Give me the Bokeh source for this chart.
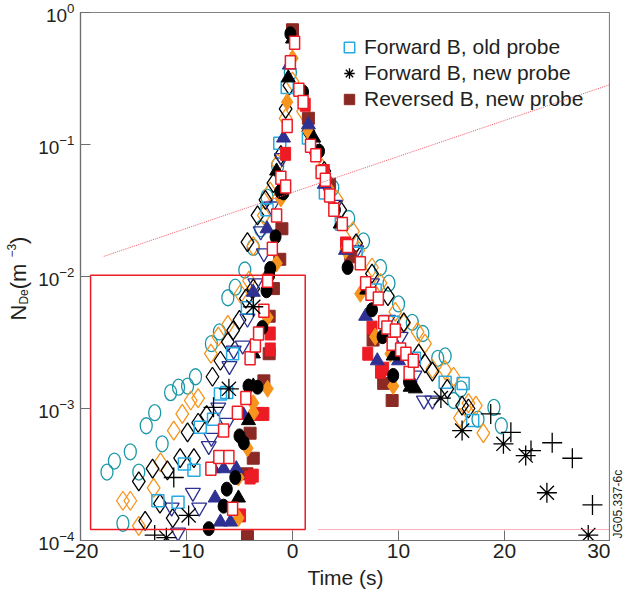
import numpy as np
from bokeh.plotting import figure
from bokeh.layouts import row
from bokeh.models import Range1d, Legend, LegendItem, FixedTicker, ColumnDataSource
from bokeh.core.properties import value
from bokeh.embed import file_html
from bokeh.resources import INLINE

# ---------------- data (time s, N_De m^-3) ----------------
teal_open_circle = [(-17.5,3.3e-4),(-16.8,4.0e-4),(-16.0,1.35e-4),(-15.3,4.7e-4),(-14.5,3.3e-4),(-13.8,7.4e-4),
    (-13.0,9.3e-4),(-12.3,5.4e-4),(-11.5,1.32e-3),(-10.75,1.45e-3),(-9.9,1.48e-3),(-9.15,1.74e-3),(-7.65,3.1e-3),
    (-6.9,3.8e-3),(-6.1,6.9e-3),(-5.4,8.3e-3),(-4.5,1.12e-2),(-3.7,1.66e-2),(-3.0,2.3e-2),(-2.4,4.0e-2),(-1.4,6.9e-2),
    (-0.2,0.35),(2.0,0.10),(3.2,5.2e-2),(3.8,4.7e-2),(5.3,2.75e-2),(6.7,1.86e-2),(8.3,1.17e-2),(9.1,8.9e-3),
    (10.0,6.2e-3),(11.3,4.5e-3),(12.3,3.7e-3),(13.7,2.4e-3),(14.4,2.5e-3),(15.2,1.15e-3),(15.9,1.41e-3),
    (17.5,8.3e-4),(19.0,1.02e-3),(19.7,7.4e-4)]
orange_open_diamond = [(-16.0,2.0e-4),(-15.3,2.0e-4),(-14.5,1.29e-4),(-13.1,2.5e-4),(-12.45,3.9e-4),(-11.2,6.8e-4),
    (-10.4,9.1e-4),(-9.6,1.15e-3),(-8.9,1.2e-3),(-7.7,2.6e-3),(-7.0,3.5e-3),(-6.1,4.3e-3),(-4.9,7.4e-3),(-4.1,9.3e-3),
    (-3.7,1.7e-2),(-2.7,2.9e-2),(-2.1,4.4e-2),(-1.4,7.2e-2),(-0.65,0.158),(0.0,0.30),(1.0,0.178),(2.8,6.6e-2),
    (4.2,3.8e-2),(5.7,2.2e-2),(6.2,1.58e-2),(7.5,1.17e-2),(8.3,8.9e-3),(9.7,5.4e-3),(10.5,4.4e-3),(11.8,3.8e-3),
    (12.5,3.1e-3),(13.2,2.0e-3),(14.4,1.95e-3),(15.2,1.74e-3),(15.8,8.5e-4),(16.6,1.1e-3),(17.3,1.05e-3),(18.0,6.5e-4)]
black_open_diamond = [(-14.5,2.8e-4),(-13.9,1.41e-4),(-13.2,3.5e-4),(-12.5,1.9e-4),(-11.8,3.4e-4),(-11.3,1.48e-4),
    (-10.6,4.2e-4),(-9.9,6.6e-4),(-9.3,4.2e-4),(-8.9,7.8e-4),(-8.1,8.9e-4),(-7.55,1.74e-3),(-6.8,2.3e-3),(-6.1,3.2e-3),
    (-5.6,3.9e-3),(-5.0,4.7e-3),(-4.4,6.8e-3),(-3.7,8.1e-3),(-4.25,1.82e-2),(-3.3,2.9e-2),(-2.55,3.8e-2),(-1.8,5.1e-2),
    (-1.1,8.3e-2),(-0.65,0.186),(-0.3,0.28),(1.5,0.126),(3.0,6.3e-2),(4.5,3.2e-2),(6.0,1.78e-2),(7.5,1.05e-2),
    (9.0,7.1e-3),(10.5,4.5e-3),(11.9,2.6e-3),(12.5,2.2e-3),(13.2,1.9e-3),(14.6,1.41e-3),(16.0,1.05e-3),(16.6,1.0e-3)]
navy_open_triangle = [(-11.4,1.78e-4),(-10.8,1.15e-4),(-9.4,2.3e-4),(-8.8,1.78e-4),(-7.9,5.2e-4),(-7.65,6.0e-4),
    (-7.0,1.02e-3),(-6.2,7.8e-4),(-5.95,2.1e-3),(-5.55,2.75e-3),(-4.7,3.0e-3),(-4.25,4.8e-3),(-3.5,8.9e-3),
    (-2.7,1.5e-2),(-3.0,2.2e-2),(-2.0,3.4e-2),(-1.0,7.9e-2),(2.0,8.9e-2),(4.0,3.5e-2),(6.0,1.58e-2),(7.5,8.9e-3),
    (9.0,4.7e-3),(10.2,3.5e-3),(11.5,1.78e-3),(12.4,1.15e-3),(13.2,1.15e-3)]
lightblue_open_square = [(-12.7,2.0e-4),(-10.8,1.95e-4),(-10.2,3.8e-4),(-9.3,3.4e-4),(-8.7,7.2e-4),(-7.45,8.3e-4),
    (-6.8,1.29e-3),(-6.2,1.32e-3),(-5.65,2.6e-3),(-4.25,5.8e-3),(-2.4,3.2e-2),(-1.2,0.102),(-0.5,0.27),(1.5,0.112),
    (3.1,4.3e-2),(4.6,2.5e-2),(6.0,1.5e-2),(7.8,7.9e-3),(9.5,4.5e-3),(11.5,2.4e-3),(14.4,1.58e-3),(16.1,1.55e-3),
    (17.0,8.1e-4)]
red_open_square = [(-7.7,3.5e-4),(-6.95,4.3e-4),(-6.0,4.3e-4),(-6.5,6.8e-4),(-5.65,1.74e-4),(-5.2,9.3e-4),(-4.4,1.2e-3),
    (-4.0,2.4e-3),(-3.5,3.0e-3),(-3.2,3.7e-3),(-2.7,5.5e-3),(-2.35,9.3e-3),(-1.9,1.62e-2),(-1.5,2.9e-2),(-1.1,5.6e-2),
    (-0.65,4.8e-2),(-0.5,0.138),(-0.2,0.42),(0.2,0.59),(0.6,0.26),(1.0,0.21),(1.7,9.8e-2),(2.2,8.3e-2),(2.7,6.2e-2),
    (3.1,5.4e-2),(3.5,4.1e-2),(3.9,3.2e-2),(4.7,2.5e-2),(5.2,1.7e-2),(6.4,1.26e-2),(6.9,8.9e-3),(7.4,7.4e-3),
    (8.1,6.8e-3),(8.6,4.5e-3),(8.9,4.1e-3),(9.4,3.1e-3),(9.7,3.9e-3),(10.2,2.8e-3),(10.7,2.6e-3),(11.0,1.86e-3),
    (11.4,2.3e-3)]
black_filled_circle = [(-7.9,1.23e-4),(-6.5,1.82e-4),(-6.2,2.45e-4),(-5.4,3.0e-4),(-5.0,6.2e-4),(-4.6,5.5e-4),
    (-4.15,1.48e-3),(-3.3,1.45e-3),(-2.85,4.1e-3),(-2.45,7.8e-3),(-2.2,1.02e-2),(-2.1,1.15e-2),(-1.6,2.0e-2),
    (-1.15,4.4e-2),(-0.85,4.3e-2),(-0.2,0.69),(1.0,0.25),(2.5,8.9e-2),(4.0,3.2e-2),(5.2,1.17e-2),(7.5,5.6e-3),
    (8.5,3.5e-3),(9.5,1.78e-3),(11.0,1.58e-3)]
navy_filled_triangle = [(-7.45,3.5e-4),(-7.3,2.1e-4),(-6.8,1.38e-4),(-6.5,3.5e-4),(-5.85,1.38e-4),(-5.3,3.5e-4),
    (-4.6,8.9e-4),(-3.7,2.6e-3),(-3.7,7.6e-3),(-2.4,2.3e-2),(-0.85,0.112),(-0.3,0.4),(1.5,0.141),(3.0,5.0e-2),
    (5.0,1.58e-2),(6.9,5.0e-3),(8.0,2.3e-3),(10.0,2.3e-3),(11.1,1.7e-3)]
orange_filled_diamond = [(-5.1,1.48e-4),(-5.1,3.0e-4),(-4.25,5.0e-4),(-3.7,9.3e-4),(-3.7,1.1e-3),(-2.35,1.41e-3),
    (-2.35,4.9e-3),(-1.5,1.26e-2),(-1.1,3.9e-2),(-0.5,0.21),(0.0,0.45),(1.5,0.126),(3.5,4.5e-2),(5.0,1.58e-2),
    (6.4,7.4e-3),(7.8,3.5e-3),(9.25,2.6e-3),(9.5,1.48e-3)]
red_filled_square = [(-4.9,1.55e-4),(-4.0,3.0e-4),(-3.7,3.1e-4),(-3.2,9.1e-4),(-2.7,9.1e-4),(-2.1,3.7e-3),(-2.1,2.8e-3),
    (-0.65,8.5e-2),(1.2,0.2),(3.0,6.3e-2),(5.0,1.78e-2),(7.1,2.6e-3),(7.5,4.1e-3),(8.6,2.0e-3),(8.3,1.9e-3)]
brown_filled_square = [(-4.25,1.07e-4),(-4.3,3.2e-4),(-4.0,6.5e-4),(-3.7,4.2e-4),(-2.7,1.62e-3),(-2.2,2.6e-3),
    (-2.2,5.0e-3),(-1.8,8.1e-3),(-1.2,1.35e-2),(-1.0,2.3e-2),(0.0,0.74),(1.5,0.158),(3.5,5.0e-2),(5.5,1.41e-2),
    (7.6,3.3e-3),(8.6,1.55e-3),(9.4,1.15e-3)]
black_filled_triangle = [(-5.1,2.1e-4),(-4.15,8.1e-4),(-3.7,2.6e-3),(-3.7,1.48e-3),(-1.5,6.3e-2),(-0.4,0.32),
    (0.0,0.63),(2.0,0.112),(4.5,2.5e-2),(7.0,7.9e-3),(9.5,2.5e-3),(11.1,1.45e-3),(11.6,1.41e-3)]
black_asterisk = [(-11.9,1.05e-4),(-9.8,1.55e-4),(-6.0,1.41e-3),(-3.7,5.9e-3),(14.0,1.2e-3),(16.0,6.8e-4),
    (19.9,5.4e-4),(22.0,4.4e-4),(24.0,2.3e-4),(27.9,1.1e-4)]
black_plus = [(-13.0,1.1e-4),(-11.2,3.0e-4),(-7.45,1.02e-3),(18.7,9.1e-4),(20.6,6.6e-4),(22.5,4.8e-4),
    (24.5,5.5e-4),(26.4,4.2e-4),(28.3,1.86e-4)]

x_ticks = [-20, -10, 0, 10, 20, 30]
y_ticks = [1e-4, 1e-3, 1e-2, 1e-1, 1]
legend_labels = ["Forward B, old probe", "Forward B, new probe", "Reversed B, new probe"]
figure_id = "JG05.337-6c"

# annotation geometry (red box and dotted guide lines)
box_t = (-19.05, 1.2)
box_n = (1.21e-4, 1.02e-2)
guide_t = [-17.8, 30]
guide_n = [0.0142, 0.285]
floor_t = [2.45, 30]
floor_n = [1.21e-4, 1.21e-4]

TEAL = "#1b98a8"; ORANGE = "#f7941d"; NAVY = "#2e3192"; LBLUE = "#27aae1"
RED = "#ed1c24"; BROWN = "#8b2a24"; BLACK = "#000000"; TXT = "#231f20"
FONT = "Liberation Sans"
H = 593
TOP_B, BOT_B = 12, 53
LEFT_W, RIGHT_W = 34, 19
MAIN_W = 629 - LEFT_W - RIGHT_W

def src(pairs):
    return ColumnDataSource(dict(t=[a for a, b in pairs], n=[b for a, b in pairs]))

def text_panel(w):
    # frames of a row are aligned with the main plot's frame; the y range maps
    # so that y = (page height - pixel row) inside that frame
    f = figure(width=w, height=H, x_range=Range1d(0, w), y_range=Range1d(BOT_B, H - TOP_B),
               output_backend="svg", toolbar_location=None, x_axis_location=None, y_axis_location=None,
               min_border=0, min_border_left=0, min_border_right=0,
               min_border_top=TOP_B, min_border_bottom=BOT_B)
    f.xgrid.visible = False
    f.ygrid.visible = False
    f.outline_line_color = None
    return f

p = figure(width=MAIN_W, height=H, x_range=Range1d(-20, 30), y_range=Range1d(1e-4, 1),
           y_axis_type="log", output_backend="svg", toolbar_location=None,
           min_border_left=80 - LEFT_W, min_border_right=0, min_border_top=TOP_B, min_border_bottom=BOT_B)
p.xgrid.visible = False
p.ygrid.visible = False
p.outline_line_color = "#808285"
p.outline_line_width = 1.2

# open markers
p.ellipse(x="t", y="n", width=12, height=16, width_units="screen", height_units="screen",
          source=src(teal_open_circle), fill_color=None, line_color=TEAL, line_width=1.3)
p.scatter(x="t", y="n", source=src(orange_open_diamond), marker="diamond", size=19,
          fill_color=None, line_color=ORANGE, line_width=1.3)
p.scatter(x="t", y="n", source=src(black_open_diamond), marker="diamond", size=19,
          fill_color=None, line_color=BLACK, line_width=1.3)
p.scatter(x="t", y="n", source=src(navy_open_triangle), marker="inverted_triangle", size=15,
          fill_color=None, line_color=NAVY, line_width=1.3)
r_old = p.scatter(x="t", y="n", source=src(lightblue_open_square), marker="square", size=12,
          fill_color=None, line_color=LBLUE, line_width=1.5)
# filled markers
r_rev = p.scatter(x="t", y="n", source=src(brown_filled_square), marker="square", size=12,
          fill_color=BROWN, line_color=BROWN)
p.rect(x="t", y="n", width=10, height=13, width_units="screen", height_units="screen",
       source=src(red_filled_square), fill_color=RED, line_color=RED)
p.scatter(x="t", y="n", source=src(orange_filled_diamond), marker="diamond", size=17,
          fill_color=ORANGE, line_color=ORANGE)
p.scatter(x="t", y="n", source=src(navy_filled_triangle), marker="triangle", size=14,
          fill_color=NAVY, line_color=NAVY)
p.ellipse(x="t", y="n", width=11, height=14, width_units="screen", height_units="screen",
          source=src(black_filled_circle), fill_color=BLACK, line_color=BLACK)
p.scatter(x="t", y="n", source=src(black_filled_triangle), marker="triangle", size=14,
          fill_color=BLACK, line_color=BLACK)
p.rect(x="t", y="n", width=10, height=13, width_units="screen", height_units="screen",
       source=src(red_open_square), fill_color="white", line_color=RED, line_width=1.5)
r_new = p.scatter(x="t", y="n", source=src(black_asterisk), marker="asterisk", size=20,
          line_color=BLACK, line_width=1.3)
p.scatter(x="t", y="n", source=src(black_plus), marker="cross", size=20,
          line_color=BLACK, line_width=1.3)

# annotation shapes
p.quad(left=[box_t[0]], right=[box_t[1]], bottom=[box_n[0]], top=[box_n[1]],
       fill_color=None, line_color=RED, line_width=1.5)
p.line(guide_t, guide_n, line_color="#ef5b68", line_width=1, line_dash="1 1")
p.line(floor_t, floor_n, line_color="#ef5b68", line_width=1, line_dash="1 1")

# axes
for ax in (p.xaxis[0], p.yaxis[0]):
    ax.axis_line_color = "#6d6e71"
    ax.axis_line_width = 1.2
    ax.major_tick_line_color = "#6d6e71"
    ax.major_tick_in = 10
    ax.major_tick_out = 0
    ax.minor_tick_in = 0
    ax.minor_tick_out = 0
    ax.major_label_text_font = FONT
    ax.major_label_text_color = TXT
p.xaxis.major_label_text_font_size = "21px"
p.yaxis.major_label_text_font_size = "19px"
p.xaxis.ticker = FixedTicker(ticks=x_ticks, minor_ticks=[])
p.yaxis.ticker = FixedTicker(ticks=y_ticks, minor_ticks=[])
p.xaxis.major_label_overrides = {t: (("\u2212" + str(-t)) if t < 0 else str(t)) for t in x_ticks}
p.xaxis.major_label_standoff = 3
p.yaxis.major_label_standoff = 6
p.xaxis.axis_label = "Time (s)"
p.xaxis.axis_label_text_font = FONT
p.xaxis.axis_label_text_font_style = "normal"
p.xaxis.axis_label_text_font_size = "21px"
p.xaxis.axis_label_text_color = TXT
p.xaxis.axis_label_standoff = 5

legend = Legend(items=[LegendItem(label=legend_labels[0], renderers=[r_old]),
                       LegendItem(label=legend_labels[1], renderers=[r_new]),
                       LegendItem(label=legend_labels[2], renderers=[r_rev])],
                location=(256, 428), glyph_width=26, glyph_height=26, spacing=0, padding=0,
                margin=0, label_standoff=2, border_line_color=None, background_fill_alpha=0,
                label_text_font=FONT, label_text_font_size="21px", label_text_color=TXT)
p.add_layout(legend)

# left panel: y-axis title N_De (m^-3), read bottom-to-top (x = centre line of each piece)
lp = text_panel(LEFT_W)
ylab_pieces = [("N", 273.0, 17.5, "22px"), ("De", 288.9, 23.5, "12px"), (" (m", 304.2, 17.5, "22px"),
               ("\u22123", 335.9, 11, "12px"), (")", 349.6, 17.5, "22px")]
for txt, yy, xx, fs in ylab_pieces:
    lp.text(x=[xx], y=[yy], text=[txt], angle=np.pi / 2, text_font=value(FONT),
            text_font_size=value(fs), text_color=TXT, text_baseline="middle", text_align="left")

# right panel: figure id
rp = text_panel(RIGHT_W)
rp.text(x=[7], y=[55], text=[figure_id], angle=np.pi / 2, text_font=value(FONT),
        text_font_size=value("12px"), text_color=TXT, text_baseline="middle", text_align="left")

layout = row(lp, p, rp, spacing=0)
open("out.html", "w").write(file_html(layout, INLINE))
